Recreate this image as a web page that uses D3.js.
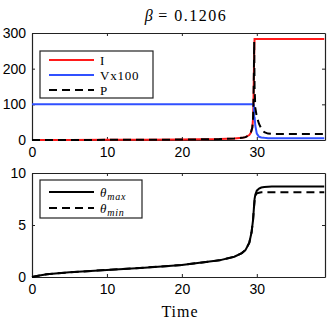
<!DOCTYPE html>
<html>
<head>
<meta charset="utf-8">
<script src="https://cdn.jsdelivr.net/npm/d3@7"></script>
<style>
  body { margin: 0; background: #fff; }
  svg text { fill: #000; }
</style>
</head>
<body>
<svg id="chart" width="336" height="323"></svg>
<script>
// data
const tPop = [0, 5, 10, 15, 20, 25, 27, 28, 28.5, 29, 29.2, 29.4, 29.5, 29.55, 29.6, 29.65, 29.7, 29.8, 30, 30.3, 30.6, 31, 31.5, 32, 39];
const seriesI = [0.1, 0.2, 0.4, 0.7, 1.2, 2.5, 4, 6, 8, 14, 20, 35, 60, 100, 170, 240, 283, 283, 283, 283, 283, 283, 283, 283, 283];
const seriesV = [100, 100, 100, 100, 100, 100, 100, 100, 100, 100, 100, 100, 100, 100, 98, 55, 65, 40, 18, 9, 7, 6, 5, 5, 5];
const seriesP = [0.1, 0.2, 0.4, 0.7, 1.2, 2.5, 4, 6, 8, 14, 20, 35, 60, 100, 170, 275, 150, 90, 65, 45, 32, 22, 18, 17, 17];

const tTheta = [0, 1, 2, 5, 10, 15, 20, 25, 27, 28, 28.5, 29, 29.3, 29.5, 29.6, 29.7, 29.8, 30, 30.3, 30.6, 31, 32, 39];
const thetaMax = [0, 0.15, 0.27, 0.45, 0.68, 0.9, 1.15, 1.6, 1.95, 2.3, 2.6, 3.3, 4.3, 5.5, 6.5, 7.5, 7.9, 8.3, 8.5, 8.6, 8.65, 8.7, 8.7];
const thetaMin = [0, 0.15, 0.27, 0.45, 0.68, 0.9, 1.15, 1.6, 1.95, 2.3, 2.6, 3.3, 4.3, 5.5, 6.5, 7.3, 7.8, 8.05, 8.1, 8.15, 8.15, 8.15, 8.15];

const xTicks = [0, 10, 20, 30];
const yTicksTop = [0, 100, 200, 300];
const yTicksBottom = [0, 5, 10];

const svg = d3.select('#chart');
const left = 32, right = 325;
const frameColor = '#222';
const serif = 'Liberation Serif, DejaVu Serif, serif';

const x = d3.scaleLinear().domain([0, 39.1]).range([left, right]);

function drawPanel(top, bottom, yDomain, yTicks) {
  const y = d3.scaleLinear().domain(yDomain).range([bottom, top]);
  const g = svg.append('g');
  // axes, MATLAB style: ticks inward on every side
  const ax = [
    [d3.axisBottom(x).tickValues(xTicks), `translate(0,${bottom})`, true, 'b'],
    [d3.axisTop(x).tickValues(xTicks), `translate(0,${top})`, false, 't'],
    [d3.axisLeft(y).tickValues(yTicks), `translate(${left},0)`, true, 'l'],
    [d3.axisRight(y).tickValues(yTicks), `translate(${right},0)`, false, 'r']
  ];
  ax.forEach(([a, tr, labels, side]) => {
    a.tickSizeInner(-3).tickSizeOuter(0).tickPadding(side === 'b' ? 7 : 6);
    if (!labels) a.tickFormat('');
    const ga = g.append('g').attr('transform', tr).call(a);
    ga.select('.domain').attr('stroke', frameColor).attr('stroke-width', 1.2);
    ga.selectAll('.tick line').attr('stroke', frameColor);
    ga.selectAll('.tick text')
      .attr('font-family', 'Liberation Sans, Arial, sans-serif')
      .attr('font-size', '14px')
      .attr('fill', '#000');
  });
  return { g, y };
}

function drawLine(g, y, ts, vs, color, dashed) {
  const line = d3.line().x(d => x(d[0])).y(d => y(d[1]));
  g.append('path')
    .datum(ts.map((t, i) => [t, vs[i]]))
    .attr('d', line)
    .attr('fill', 'none')
    .attr('stroke', color)
    .attr('stroke-width', 2)
    .attr('stroke-dasharray', dashed ? '8,5' : null);
}

function legend(g, x0, y0, w, h, items) {
  g.append('rect')
    .attr('x', x0).attr('y', y0).attr('width', w).attr('height', h)
    .attr('fill', '#fff').attr('stroke', frameColor).attr('stroke-width', 1.2);
  items.forEach(it => {
    const yy = y0 + it.dy;
    g.append('line')
      .attr('x1', x0 + 9).attr('x2', x0 + 54).attr('y1', yy).attr('y2', yy)
      .attr('stroke', it.color).attr('stroke-width', 2)
      .attr('stroke-dasharray', it.dashed ? '8,5' : null);
    const t = g.append('text')
      .attr('x', x0 + 60).attr('y', yy + 4.5)
      .attr('font-family', serif)
      .attr('font-size', '13px')
      .attr('letter-spacing', '0.8px');
    it.label(t);
  });
}

// title
svg.append('text')
  .attr('x', 186).attr('y', 21)
  .attr('text-anchor', 'middle')
  .attr('font-family', serif)
  .attr('font-size', '16px')
  .call(t => {
    t.append('tspan').attr('font-style', 'italic').text('β');
    t.append('tspan').attr('letter-spacing', '1.5px').text(' = 0.1206');
  });

// top panel
const topP = drawPanel(33, 140, [0, 300], yTicksTop);
drawLine(topP.g, topP.y, tPop, seriesI, '#ff1a1a', false);
drawLine(topP.g, topP.y, tPop, seriesV, '#3050ff', false);
drawLine(topP.g, topP.y, tPop, seriesP, '#000', true);
legend(topP.g, 40, 51, 113, 47, [
  { dy: 9, color: '#ff1a1a', label: t => t.text('I') },
  { dy: 24, color: '#3050ff', label: t => t.text('Vx100') },
  { dy: 39, color: '#000', dashed: true, label: t => t.text('P') }
]);

// bottom panel
const botP = drawPanel(173, 277, [0, 10], yTicksBottom);
drawLine(botP.g, botP.y, tTheta, thetaMax, '#000', false);
drawLine(botP.g, botP.y, tTheta, thetaMin, '#000', true);
legend(botP.g, 40, 180, 102, 38, [
  { dy: 12, color: '#000', label: t => {
      t.append('tspan').attr('font-style', 'italic').text('θ');
      t.append('tspan').attr('font-style', 'italic').attr('font-size', '10px').attr('dy', 3).text('max');
    } },
  { dy: 28, color: '#000', dashed: true, label: t => {
      t.append('tspan').attr('font-style', 'italic').text('θ');
      t.append('tspan').attr('font-style', 'italic').attr('font-size', '10px').attr('dy', 3).text('min');
    } }
]);

// x label
svg.append('text')
  .attr('x', 180).attr('y', 317)
  .attr('text-anchor', 'middle')
  .attr('font-family', serif)
  .attr('font-size', '16px')
  .attr('letter-spacing', '1px')
  .text('Time');
</script>
</body>
</html>
